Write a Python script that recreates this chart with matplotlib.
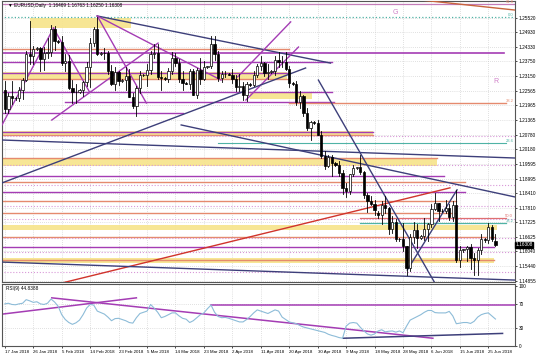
import matplotlib
matplotlib.use("Agg")
import matplotlib.pyplot as plt
from matplotlib.patches import Rectangle

plt.rcParams['font.family'] = ['Liberation Sans', 'DejaVu Sans']

# EURUSD daily, 17 Jan 2018 .. 27 Jun 2018 (short Sunday bars included)
opens = [1.2260, 1.2180, 1.2235, 1.2225, 1.2228, 1.2260, 1.2300, 1.2405, 1.2395,
         1.2425, 1.2430, 1.2383, 1.2410, 1.2414, 1.2507,
         1.2459, 1.2452, 1.2368, 1.2377, 1.2268, 1.2250,
         1.2252, 1.2260, 1.2291, 1.2351, 1.2448, 1.2505,
         1.2406, 1.2410, 1.2407, 1.2337, 1.2285, 1.2330,
         1.2295, 1.2300, 1.2316, 1.2232, 1.2193, 1.2268,
         1.2318, 1.2320, 1.2338, 1.2406, 1.2409, 1.2312,
         1.2307, 1.2305, 1.2335, 1.2390, 1.2368, 1.2303,
         1.2288, 1.2285, 1.2337, 1.2240, 1.2338, 1.2303,
         1.2352, 1.2355, 1.2447, 1.2405, 1.2309, 1.2323,
         1.2322, 1.2320, 1.2302, 1.2272, 1.2277, 1.2237,
         1.2282, 1.2280, 1.2320, 1.2355, 1.2369, 1.2326,
         1.2330, 1.2335, 1.2381, 1.2371, 1.2374, 1.2345,
         1.2288, 1.2285, 1.2210, 1.2234, 1.2164, 1.2103,
         1.2130, 1.2125, 1.2078, 1.1990, 1.1950, 1.1989,
         1.1961, 1.1955, 1.1922, 1.1863, 1.1851, 1.1918,
         1.1942, 1.1945, 1.1925, 1.1834, 1.1810, 1.1796,
         1.1760, 1.1750, 1.1792, 1.1781, 1.1694, 1.1722,
         1.1653, 1.1655, 1.1625, 1.1537, 1.1664, 1.1693,
         1.1660, 1.1665, 1.1694, 1.1715, 1.1776, 1.1801,
         1.1768, 1.1770, 1.1780, 1.1743, 1.1793, 1.1569,
         1.1608, 1.1612, 1.1624, 1.1576, 1.1569, 1.1609,
         1.1655, 1.1650, 1.1704, 1.1647]
highs = [1.2297, 1.2245, 1.2297, 1.2232, 1.2272, 1.2306, 1.2415, 1.2537, 1.2436,
         1.2433, 1.2435, 1.2433, 1.2469, 1.2522, 1.2518,
         1.2462, 1.2476, 1.2403, 1.2400, 1.2298, 1.2282,
         1.2262, 1.2295, 1.2373, 1.2468, 1.2516, 1.2555,
         1.2414, 1.2430, 1.2415, 1.2359, 1.2353, 1.2336,
         1.2302, 1.2354, 1.2345, 1.2246, 1.2273, 1.2336,
         1.2324, 1.2365, 1.2415, 1.2446, 1.2446, 1.2335,
         1.2310, 1.2346, 1.2413, 1.2410, 1.2383, 1.2336,
         1.2292, 1.2344, 1.2343, 1.2347, 1.2389, 1.2375,
         1.2358, 1.2476, 1.2476, 1.2417, 1.2335, 1.2336,
         1.2326, 1.2345, 1.2320, 1.2324, 1.2292, 1.2292,
         1.2286, 1.2337, 1.2366, 1.2396, 1.2373, 1.2365,
         1.2338, 1.2396, 1.2414, 1.2397, 1.2414, 1.2358,
         1.2292, 1.2296, 1.2255, 1.2238, 1.2187, 1.2133,
         1.2132, 1.2139, 1.2093, 1.2010, 1.1996, 1.1997,
         1.1966, 1.1970, 1.1935, 1.1880, 1.1920, 1.1955,
         1.1948, 1.1997, 1.1931, 1.1841, 1.1830, 1.1812,
         1.1768, 1.1809, 1.1830, 1.1783, 1.1749, 1.1736,
         1.1660, 1.1720, 1.1627, 1.1675, 1.1724, 1.1717,
         1.1670, 1.1738, 1.1720, 1.1797, 1.1840, 1.1802,
         1.1775, 1.1811, 1.1796, 1.1808, 1.1852, 1.1625,
         1.1616, 1.1626, 1.1634, 1.1599, 1.1617, 1.1675,
         1.1660, 1.1720, 1.1710, 1.1676]
lows = [1.2165, 1.2167, 1.2200, 1.2220, 1.2213, 1.2224, 1.2295, 1.2365, 1.2365,
        1.2420, 1.2336, 1.2338, 1.2390, 1.2398, 1.2420,
        1.2450, 1.2360, 1.2334, 1.2263, 1.2206, 1.2205,
        1.2248, 1.2236, 1.2276, 1.2272, 1.2438, 1.2402,
        1.2402, 1.2385, 1.2322, 1.2280, 1.2260, 1.2278,
        1.2290, 1.2260, 1.2230, 1.2187, 1.2155, 1.2245,
        1.2314, 1.2274, 1.2322, 1.2388, 1.2302, 1.2259,
        1.2300, 1.2293, 1.2323, 1.2355, 1.2290, 1.2259,
        1.2282, 1.2261, 1.2239, 1.2226, 1.2284, 1.2298,
        1.2348, 1.2350, 1.2382, 1.2297, 1.2290, 1.2310,
        1.2318, 1.2286, 1.2256, 1.2253, 1.2218, 1.2215,
        1.2276, 1.2273, 1.2310, 1.2340, 1.2316, 1.2305,
        1.2326, 1.2319, 1.2353, 1.2352, 1.2341, 1.2272,
        1.2280, 1.2197, 1.2184, 1.2155, 1.2095, 1.2055,
        1.2120, 1.2075, 1.1985, 1.1938, 1.1947, 1.1911,
        1.1950, 1.1912, 1.1839, 1.1823, 1.1838, 1.1911,
        1.1938, 1.1920, 1.1822, 1.1763, 1.1792, 1.1750,
        1.1740, 1.1717, 1.1762, 1.1676, 1.1677, 1.1646,
        1.1648, 1.1606, 1.1510, 1.1525, 1.1640, 1.1617,
        1.1655, 1.1652, 1.1646, 1.1703, 1.1773, 1.1727,
        1.1764, 1.1760, 1.1730, 1.1728, 1.1563, 1.1542,
        1.1600, 1.1567, 1.1531, 1.1508, 1.1510, 1.1594,
        1.1642, 1.1640, 1.1648, 1.1625]
closes = [1.2180, 1.2235, 1.2225, 1.2228, 1.2260, 1.2300, 1.2405, 1.2395, 1.2425,
          1.2430, 1.2383, 1.2410, 1.2414, 1.2507, 1.2459,
          1.2452, 1.2368, 1.2377, 1.2268, 1.2250, 1.2252,
          1.2260, 1.2291, 1.2351, 1.2448, 1.2505, 1.2406,
          1.2410, 1.2407, 1.2337, 1.2285, 1.2330, 1.2295,
          1.2300, 1.2316, 1.2232, 1.2193, 1.2268, 1.2318,
          1.2320, 1.2338, 1.2406, 1.2409, 1.2312, 1.2307,
          1.2305, 1.2335, 1.2390, 1.2368, 1.2303, 1.2288,
          1.2285, 1.2337, 1.2240, 1.2338, 1.2303, 1.2352,
          1.2355, 1.2447, 1.2405, 1.2309, 1.2323, 1.2322,
          1.2320, 1.2302, 1.2272, 1.2277, 1.2237, 1.2282,
          1.2280, 1.2320, 1.2355, 1.2369, 1.2326, 1.2330,
          1.2335, 1.2381, 1.2371, 1.2374, 1.2345, 1.2288,
          1.2285, 1.2210, 1.2234, 1.2164, 1.2103, 1.2130,
          1.2125, 1.2078, 1.1990, 1.1950, 1.1989, 1.1961,
          1.1955, 1.1922, 1.1863, 1.1851, 1.1918, 1.1942,
          1.1945, 1.1925, 1.1834, 1.1810, 1.1796, 1.1771,
          1.1750, 1.1792, 1.1781, 1.1694, 1.1722, 1.1653,
          1.1655, 1.1625, 1.1537, 1.1664, 1.1693, 1.1660,
          1.1665, 1.1694, 1.1715, 1.1776, 1.1801, 1.1768,
          1.1770, 1.1780, 1.1743, 1.1793, 1.1569, 1.1608,
          1.1612, 1.1624, 1.1576, 1.1569, 1.1609, 1.1655,
          1.1650, 1.1704, 1.1653, 1.16308]

rsi = [70, 71, 69, 68.5, 70, 71, 77, 75, 72.5, 73.5, 70, 69, 71, 78, 73,
       66, 52, 44, 39, 36, 38.5, 43, 52, 63, 69, 68, 58, 55.5, 53, 48,
       42, 45.5, 46, 44, 42, 39, 38, 47, 54, 56, 58, 69, 63, 56, 47,
       49, 52, 55, 55, 50, 46, 44.5, 39, 42, 47, 52, 55, 62, 68, 56,
       49, 47, 47.5, 46, 44, 42, 40, 40, 44, 49, 55, 60, 58, 56, 54,
       57, 60, 58, 48, 44, 40, 38.5, 37, 34, 31.5, 30, 28.5, 27, 25.5, 24,
       22.5, 19.5, 17.5, 16, 14, 13, 33, 38, 39, 38, 31, 25, 20, 18, 20,
       25, 27, 23.5, 24.5, 25, 23, 25, 22, 33, 43, 46, 49, 52, 56, 59,
       59, 55.5, 55, 55, 55, 57.5, 50, 37, 38, 39, 39, 37.5, 41, 48, 52,
       54, 55, 50, 44.8]

date_labels = ['17 Jan 2018', '26 Jan 2018', '5 Feb 2018', '14 Feb 2018', '23 Feb 2018',
               '5 Mar 2018', '14 Mar 2018', '23 Mar 2018', '2 Apr 2018', '11 Apr 2018',
               '20 Apr 2018', '30 Apr 2018', '9 May 2018', '18 May 2018', '28 May 2018',
               '6 Jun 2018', '15 Jun 2018', '25 Jun 2018']
price_ticks = [1.25520, 1.24930, 1.24330, 1.23750, 1.23150, 1.22565, 1.21965, 1.21365,
               1.20780, 1.20180, 1.19595, 1.18995, 1.18410, 1.17810, 1.17225, 1.16625,
               1.16040, 1.15440, 1.14855]

# (price_low, price_high, bar_from, bar_to)
zones = [(1.2510, 1.2551, 7, 35.5), (1.2299, 1.2331, -1, 79.5), (1.2222, 1.2247, 69, 86.5),
         (1.2072, 1.2093, -1, 103.5), (1.1951, 1.1983, -1, 121.5), (1.1691, 1.1711, -1, 138.5),
         (1.1557, 1.1578, -1, 137.5)]

PURPLE = '#a43cb4'
SALMON = '#e58a6e'
NAVY = '#3d3f7a'
TEAL = '#4fb3a5'
PLUM = '#d898d8'

# (price, bar_from, bar_to, colour, style, width)
levels = [(1.2608, -1, 144, '#c47cb8', '-', 0.9), (1.2555, -1, 144, TEAL, ':', 0.9),
          (1.2424, -1, 80, SALMON, '-', 1.0), (1.2408, -1, 140.5, PURPLE, '-', 1.2),
          (1.2374, -1, 92, PURPLE, '-', 1.0), (1.2329, -1, 80, PURPLE, '-', 1.0),
          (1.2302, -1, 80, SALMON, '-', 1.0), (1.2252, -1, 92, PURPLE, '-', 1.0),
          (1.2211, 17, 92.5, PURPLE, '-', 1.0), (1.2205, 80, 141, SALMON, '-', 1.0),
          (1.2167, -1, 50, PURPLE, '-', 1.0), (1.2090, -1, 103.5, PURPLE, '-', 1.0),
          (1.2078, -1, 103.5, SALMON, '-', 1.0), (1.2044, 60, 141, TEAL, '-', 0.8),
          (1.1983, -1, 121.5, SALMON, '-', 1.0), (1.1910, -1, 123.5, PURPLE, '-', 1.0),
          (1.1884, -1, 129.5, SALMON, '-', 1.0), (1.1846, -1, 129.5, PURPLE, '-', 1.0),
          (1.1809, -1, 127, SALMON, '-', 1.0), (1.1761, -1, 127, SALMON, '-', 1.0),
          (1.1739, 100, 141, '#e07070', '-', 0.9), (1.1718, 100, 141, TEAL, '-', 0.9),
          (1.1664, -1, 137.5, SALMON, '-', 1.0), (1.1622, -1, 137.5, PURPLE, '-', 1.0),
          (1.1570, -1, 137.5, SALMON, '-', 1.0),
          (1.2072, -1, 144, PLUM, ':', 0.8), (1.1955, -1, 144, PLUM, ':', 0.8),
          (1.1874, -1, 144, PLUM, ':', 0.8), (1.1788, -1, 144, PLUM, ':', 0.8),
          (1.1734, -1, 144, PLUM, ':', 0.8), (1.1657, -1, 144, PLUM, ':', 0.8),
          (1.1601, -1, 144, PLUM, ':', 0.8), (1.1522, -1, 144, PLUM, ':', 0.8)]

# (bar0, price0, bar1, price1, colour)
trends = [(-0.8, 1.2117, 13.7, 1.2510, PURPLE), (13.7, 1.2510, 23.8, 1.2251, PURPLE),
          (26, 1.2559, 39.8, 1.2206, PURPLE), (26, 1.2559, 91.6, 1.2368, NAVY),
          (26, 1.2559, 60.8, 1.2299, PURPLE), (13.2, 1.2137, 43.1, 1.2449, PURPLE),
          (65.5, 1.2312, 80.4, 1.2535, PURPLE), (67.8, 1.2218, 82.6, 1.2433, PURPLE),
          (-0.8, 1.1882, 84.6, 1.2348, NAVY), (-0.8, 1.2056, 143.5, 1.1983, NAVY),
          (49.6, 1.2117, 143.5, 1.1825, NAVY), (16, 1.1476, 125.2, 1.1862, '#d0342c'),
          (-0.8, 1.1561, 143.5, 1.1488, NAVY), (88.2, 1.2299, 122.4, 1.1440, NAVY),
          (113.2, 1.1529, 127.2, 1.1854, NAVY), (116.8, 1.2624, 143.5, 1.2583, '#c8643c')]

# RSI panel lines: (bar0, value0, bar1, value1, colour)
rsi_lines = [(13.2, 80, 120.4, 12.9, PURPLE), (-0.8, 52.9, 37, 80, PURPLE),
             (58, 67.3, 143.5, 67.3, PURPLE), (95.2, 12.9, 140, 20.9, NAVY)]

fs = 3.4
fig = plt.figure(figsize=(5.36, 3.58), dpi=100)
ax = fig.add_axes([2 / 536, 1 - 282 / 358, 513 / 536, 281 / 358])
rax = fig.add_axes([2 / 536, 1 - 346 / 358, 513 / 536, 62 / 358])

n = len(closes)
xs = list(range(n))
date_pos = [8 * k for k in range(len(date_labels))]

for a in (ax, rax):
    a.set_xlim(-0.8, 143.5)
    for p in date_pos:
        a.axvline(p, color='#c4c4c4', lw=0.5, ls=(0, (1, 2)), zorder=0)
    for s in a.spines.values():
        s.set_color('#555555')
        s.set_linewidth(0.8)
    a.yaxis.tick_right()
    a.tick_params(axis='y', labelsize=fs, length=1.5, width=0.5, pad=1)

ax.set_ylim(1.14802, 1.26197)
for p in price_ticks:
    ax.axhline(p, color='#c4c4c4', lw=0.5, ls=(0, (1, 2)), zorder=0)
ax.set_yticks(price_ticks)
ax.set_yticklabels(['%.5f' % p for p in price_ticks])
ax.set_xticks([])

for lo, hi, b0, b1 in zones:
    ax.add_patch(Rectangle((b0, lo), b1 - b0, hi - lo, facecolor='#f7e48a',
                           edgecolor='none', alpha=0.9, zorder=1))

for p, b0, b1, c, st, w in levels:
    ax.plot([b0, b1], [p, p], color=c, ls=st, lw=w, zorder=2)

for b0, p0, b1, p1, c in trends:
    ax.plot([b0, b1], [p0, p1], color=c, lw=1.0, zorder=3)

for i in xs:
    o, h, l, c = opens[i], highs[i], lows[i], closes[i]
    ax.plot([i, i], [l, h], color='black', lw=0.6, zorder=4)
    bottom = min(o, c)
    height = max(abs(c - o), 0.00012)
    face = 'white' if c >= o else 'black'
    ax.add_patch(Rectangle((i - 0.32, bottom), 0.64, height, facecolor=face,
                           edgecolor='black', lw=0.5, zorder=5))

ax.text(0.012, 0.992, '\u25bc EURUSD,Daily  1.16469 1.16763 1.16250 1.16308',
        transform=ax.transAxes, fontsize=fs, va='top', ha='left', color='black')
ax.text(109.8, 1.2575, 'G', color='#d080c8', fontsize=5, ha='center', va='center')
ax.text(138.1, 1.2295, 'R', color='#d080c8', fontsize=5, ha='center', va='center')

fib_text = [(1.2608, '61.8', SALMON), (1.2555, '0.0', TEAL), (1.2205, '38.2', SALMON),
            (1.2044, '23.6', TEAL), (1.1739, '50.0', '#e07070'), (1.1718, '38.2', TEAL)]
for p, t, c in fib_text:
    ax.text(143, p, t, color=c, fontsize=3.0, ha='right', va='bottom')

ax.text(1.001, closes[-1], '%.5f' % closes[-1], transform=ax.get_yaxis_transform(),
        fontsize=fs, color='white', va='center', ha='left',
        bbox=dict(boxstyle='square,pad=0.12', fc='black', ec='black'))

rax.set_ylim(0, 103)
rax.set_yticks([0, 30, 70, 100])
rax.set_yticklabels(['0', '30', '70', '100'])
for v in (30, 70):
    rax.axhline(v, color='#c4c4c4', lw=0.5, ls=(0, (1, 2)), zorder=0)
rax.plot(xs, rsi, color='#8dbcd8', lw=0.8, zorder=3)
for b0, v0, b1, v1, c in rsi_lines:
    rax.plot([b0, b1], [v0, v1], color=c, lw=1.1, zorder=2)
rax.text(0.008, 0.97, 'RSI(9) 44.8388', transform=rax.transAxes, fontsize=fs,
         va='top', ha='left')
rax.set_xticks(date_pos)
rax.set_xticklabels(date_labels, fontsize=3.2, ha='left')
rax.tick_params(axis='x', length=1.5, width=0.5, pad=1.5)

fig.savefig('out.png', dpi=100)
